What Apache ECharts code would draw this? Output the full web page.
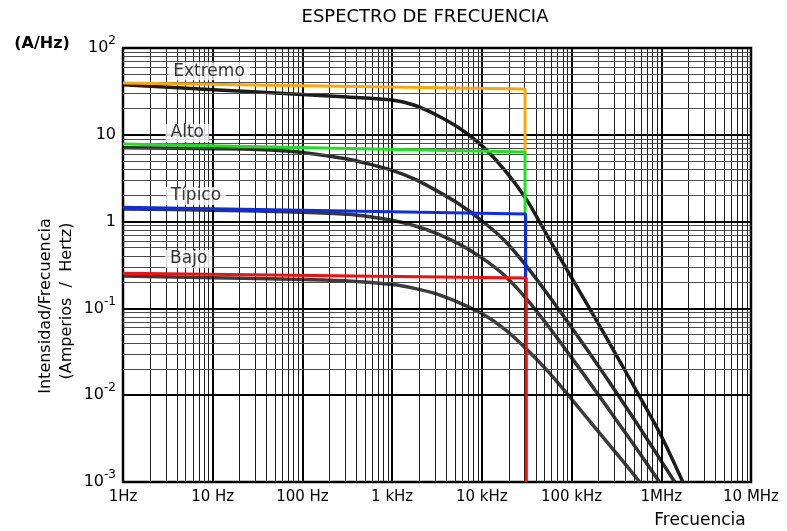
<!DOCTYPE html>
<html>
<head>
<meta charset="utf-8">
<script src="https://cdn.jsdelivr.net/npm/echarts@6/dist/echarts.min.js"></script>
<style>
  html, body { margin: 0; padding: 0; background: #fff; }
  #chart { width: 787px; height: 531px; }
</style>
</head>
<body>
<div id="chart"></div>
<script>
// Spectrum curves: frequency (Hz) and current density (A/Hz)
const freqExtremo = [1, 10, 100, 316, 1000, 1778, 3162, 5623, 10000, 17783, 31623, 56234, 100000, 177828, 316228, 562341, 1000000, 1738000];
const valExtremo  = [37.6, 33.1, 29.2, 27.2, 25.1, 21.9, 16.8, 11.9, 7.50, 3.98, 1.78, 0.631, 0.226, 0.0813, 0.0288, 0.0100, 0.00339, 0.001];

const freqAlto = [1, 10, 31.6, 100, 316, 562, 1000, 1778, 3162, 5623, 10000, 17783, 31623, 56234, 100000, 177828, 316228, 562341, 1000000, 1412500];
const valAlto  = [7.08, 6.92, 6.79, 6.27, 5.27, 4.59, 3.89, 3.09, 2.26, 1.585, 1.023, 0.610, 0.305, 0.138, 0.0603, 0.0257, 0.0107, 0.00437, 0.00174, 0.001];

const freqTipico = [1, 10, 100, 316, 562, 1000, 1778, 3162, 5623, 10000, 17783, 31623, 56234, 100000, 177828, 316228, 562341, 955000];
const valTipico  = [1.40, 1.355, 1.28, 1.216, 1.14, 1.035, 0.896, 0.729, 0.550, 0.382, 0.241, 0.128, 0.0606, 0.0271, 0.0119, 0.00516, 0.00221, 0.001];

const freqBajo = [1, 10, 100, 316, 1000, 1778, 3162, 5623, 10000, 17783, 31623, 56234, 100000, 177828, 316228, 575440];
const valBajo  = [0.236, 0.226, 0.215, 0.2065, 0.188, 0.170, 0.146, 0.116, 0.0871, 0.0582, 0.0339, 0.0182, 0.00902, 0.00437, 0.00214, 0.001];

// Level envelopes: flat level up to the cut-off frequency, then a drop to the next level
const stepFreqExtremo = [1, 30300, 30300];
const stepValExtremo  = [39.5, 33.7, 6.34];
const stepFreqAlto    = [1, 30300, 30300];
const stepValAlto     = [7.84, 6.34, 1.22];
const stepFreqTipico  = [1, 30800, 30800];
const stepValTipico   = [1.46, 1.22, 0.224];
const stepFreqBajo    = [1, 31300, 31300];
const stepValBajo     = [0.254, 0.224, 0.001];

const levelNames = ['Extremo', 'Alto', 'Típico', 'Bajo'];

// Axis tick labels
const xTickValues = [1, 10, 100, 1e3, 1e4, 1e5, 1e6, 1e7];
const xTickText   = ['1Hz', '10 Hz', '100 Hz', '1 kHz', '10 kHz', '100 kHz', '1MHz', '10 MHz'];
const yTickValues = [0.001, 0.01, 0.1, 1, 10, 100];
const yTickBase   = ['10', '10', '10', '1', '10', '10'];
const yTickExp    = ['-3', '-2', '-1', '', '', '2'];

const FONT = 'DejaVu Sans';

function pairs(xs, ys) { return xs.map((x, i) => [x, ys[i]]); }
function tickIndex(values, v) {
  return values.findIndex(t => Math.abs(Math.log10(t) - Math.log10(v)) < 1e-6);
}

// Log graph-paper rulings: heavy decade lines, light lines at 2..9 within each decade
const subMultiples = [2, 3, 4, 5, 6, 7, 8, 9];
function ruling(axisKey, decades, minorColor) {
  const lines = [];
  decades.forEach((d, i) => {
    lines.push({ [axisKey]: d, lineStyle: { color: '#000', width: 2, type: 'solid' } });
    if (i < decades.length - 1) {
      subMultiples.forEach(m => lines.push({ [axisKey]: d * m, lineStyle: { color: minorColor, width: 1, type: 'solid' } }));
    }
  });
  return lines;
}
const gridLines = ruling('xAxis', xTickValues, '#1c1c1c').concat(ruling('yAxis', yTickValues, '#4a4a4a'));

// Where the level names sit (frequency, A/Hz)
const labelAnchors = [[9.1, 54], [5.2, 10.5], [6.5, 1.97], [5.4, 0.371]];

function curve(xs, ys, color) {
  return {
    type: 'line', data: pairs(xs, ys), smooth: 0.3, symbol: 'none', z: 4,
    lineStyle: { color: color, width: 3.5 }
  };
}
function step(xs, ys, color) {
  return {
    type: 'line', data: pairs(xs, ys), symbol: 'none', z: 6,
    lineStyle: { color: color, width: 3 }
  };
}

const chart = echarts.init(document.getElementById('chart'), null, { renderer: 'canvas' });
chart.setOption({
  animation: false,
  backgroundColor: '#fff',
  grid: { left: 123, right: 36, top: 48, bottom: 49, show: true, borderColor: '#000', borderWidth: 2.5 },
  xAxis: {
    type: 'log', logBase: 10, min: 1, max: 1e7, splitNumber: 7,
    axisLine: { show: false },
    axisTick: { show: false },
    splitLine: { show: false },
    axisLabel: {
      margin: 8, color: '#000', fontFamily: FONT, fontSize: 15,
      formatter: v => { const i = tickIndex(xTickValues, v); return i >= 0 ? xTickText[i] : ''; }
    }
  },
  yAxis: {
    type: 'log', logBase: 10, min: 0.001, max: 100, splitNumber: 5,
    axisLine: { show: false },
    axisTick: { show: false },
    splitLine: { show: false },
    axisLabel: {
      margin: 7, color: '#000', fontFamily: FONT,
      formatter: v => {
        const i = tickIndex(yTickValues, v);
        if (i < 0) return '';
        return yTickExp[i] ? '{b|' + yTickBase[i] + '}{s|' + yTickExp[i] + '}' : '{b|' + yTickBase[i] + '}';
      },
      rich: {
        b: { fontFamily: FONT, fontSize: 16, lineHeight: 26, color: '#000' },
        s: { fontFamily: FONT, fontSize: 12, lineHeight: 12, verticalAlign: 'top', color: '#000' }
      }
    }
  },
  graphic: [
    { type: 'text', x: 425, y: 17, style: { text: 'ESPECTRO DE FRECUENCIA', fontFamily: FONT, fontSize: 18, fill: '#000', textAlign: 'center', textVerticalAlign: 'middle' } },
    { type: 'text', x: 42, y: 44, style: { text: '(A/Hz)', fontFamily: FONT, fontSize: 16, fontWeight: 'bold', fill: '#000', textAlign: 'center', textVerticalAlign: 'middle' } },
    { type: 'text', x: 46, y: 306, rotation: Math.PI / 2, style: { text: 'Intensidad/Frecuencia', fontFamily: FONT, fontSize: 16, fill: '#000', textAlign: 'center', textVerticalAlign: 'middle' } },
    { type: 'text', x: 67, y: 301, rotation: Math.PI / 2, style: { text: '(Amperios  /  Hertz)', fontFamily: FONT, fontSize: 16, fill: '#000', textAlign: 'center', textVerticalAlign: 'middle' } },
    { type: 'text', x: 700, y: 521, style: { text: 'Frecuencia', fontFamily: FONT, fontSize: 17, fill: '#000', textAlign: 'center', textVerticalAlign: 'middle' } }
  ],
  series: [
    {
      type: 'line', data: [[1, 0.001]], symbol: 'none', z: 1, silent: true,
      markLine: { symbol: ['none', 'none'], silent: true, label: { show: false }, data: gridLines }
    },
    curve(freqExtremo, valExtremo, '#1c1c1c'),
    curve(freqAlto, valAlto, '#2c2c2c'),
    curve(freqTipico, valTipico, '#383838'),
    curve(freqBajo, valBajo, '#3c3c3c'),
    step(stepFreqExtremo, stepValExtremo, '#FFA600'),
    step(stepFreqAlto, stepValAlto, '#19E619'),
    step(stepFreqTipico, stepValTipico, '#0A2CF0'),
    step(stepFreqBajo, stepValBajo, '#FF0A0A'),
    {
      type: 'scatter', data: labelAnchors, symbolSize: 1, z: 8, silent: true,
      itemStyle: { color: 'transparent' },
      label: {
        show: true, position: 'inside', color: '#000', fontFamily: FONT, fontSize: 17,
        backgroundColor: '#fff', padding: [1, 5, 0, 5],
        formatter: p => levelNames[p.dataIndex]
      }
    }
  ]
});
</script>
</body>
</html>
